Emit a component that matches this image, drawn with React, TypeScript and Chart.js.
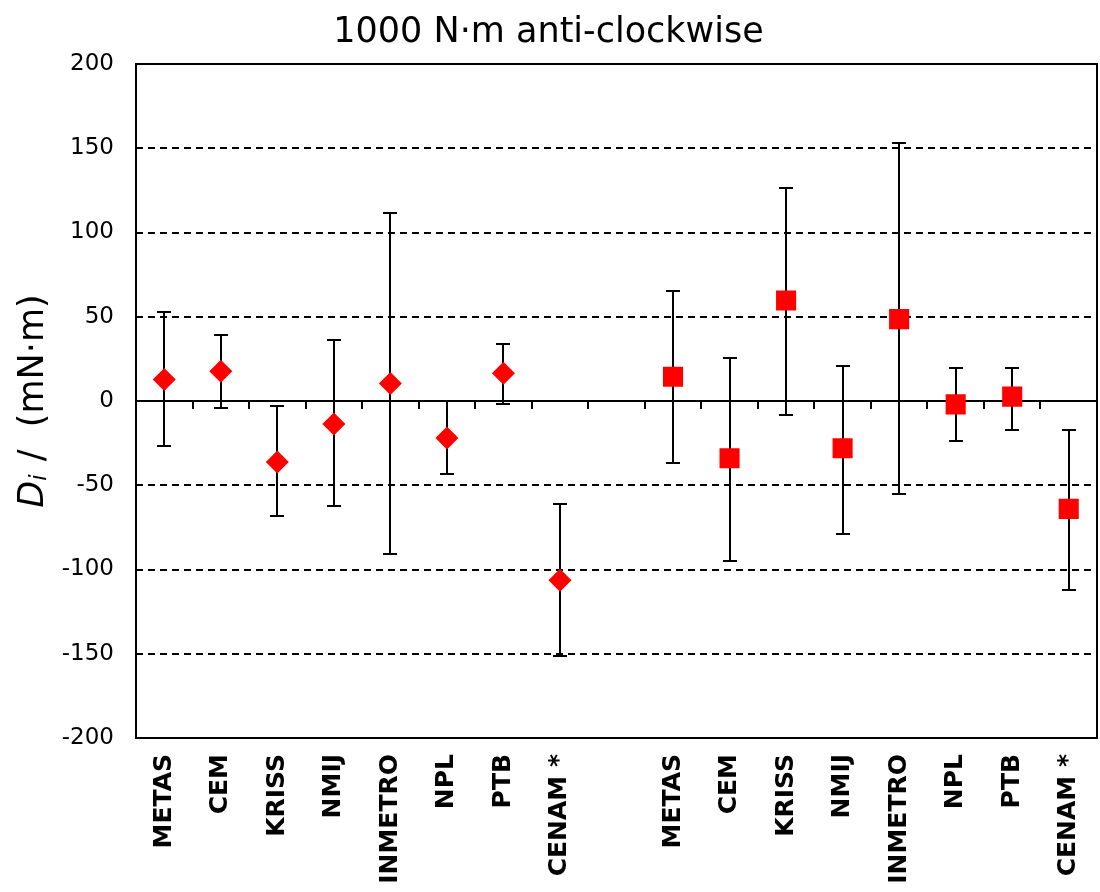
import React, { useEffect, useRef } from 'react';
import { Chart, registerables } from 'chart.js';

Chart.register(...registerables);

const TITLE = '1000 N·m anti-clockwise';
const INSTITUTES = ['METAS', 'CEM', 'KRISS', 'NMIJ', 'INMETRO', 'NPL', 'PTB', 'CENAM *'];
const CATEGORIES = [...INSTITUTES, '', ...INSTITUTES];
const Y_TICKS = [-200, -150, -100, -50, 0, 50, 100, 150, 200];

// first group (diamonds)
const LEFT_VALUES = [12.8, 17.6, -36.2, -13.6, 10.4, -21.9, 16.4, -106.4];
const LEFT_UPPER = [53, 39, -2.7, 36.4, 111.4, 0, 34, -61.2];
const LEFT_LOWER = [-26.7, -3.9, -68.3, -62.4, -91, -43.3, -1.5, -151.5];

// second group (squares)
const RIGHT_VALUES = [14.4, -34, 59.6, -28, 48.6, -2, 2.6, -64];
const RIGHT_UPPER = [65, 25.7, 126.5, 20.5, 153, 19.5, 19.5, -17];
const RIGHT_LOWER = [-37, -95, -8.6, -79, -55, -24, -17, -112];

const gap = [null];
const empty8 = INSTITUTES.map(() => null);
const DIAMOND_DATA = [...LEFT_VALUES, ...gap, ...empty8];
const SQUARE_DATA = [...empty8, ...gap, ...RIGHT_VALUES];
const UPPER = [...LEFT_UPPER, ...gap, ...RIGHT_UPPER];
const LOWER = [...LEFT_LOWER, ...gap, ...RIGHT_LOWER];

const FONT = '"DejaVu Sans", Verdana, sans-serif';

const framePlugin = {
  id: 'frame',
  beforeDatasetsDraw(chart: any) {
    const { ctx, chartArea, scales } = chart;
    const xs = scales.x;
    const ys = scales.y;
    ctx.save();
    ctx.strokeStyle = '#000';
    ctx.lineWidth = 2;
    // zero line
    const y0 = Math.round(ys.getPixelForValue(0));
    ctx.beginPath();
    ctx.moveTo(chartArea.left, y0);
    ctx.lineTo(chartArea.right, y0);
    ctx.stroke();
    // minor ticks between categories
    const half = (xs.getPixelForValue(1) - xs.getPixelForValue(0)) / 2;
    ctx.beginPath();
    for (let i = 0; i < CATEGORIES.length - 1; i++) {
      const x = Math.round(xs.getPixelForValue(i) + half);
      ctx.moveTo(x, y0);
      ctx.lineTo(x, y0 + 8);
    }
    ctx.stroke();
    // box
    const l = Math.round(chartArea.left);
    const t = Math.round(chartArea.top);
    const r = Math.round(chartArea.right);
    const b = Math.round(chartArea.bottom);
    ctx.beginPath();
    ctx.moveTo(l, t);
    ctx.lineTo(r, t);
    ctx.lineTo(r, b);
    ctx.lineTo(l, b);
    ctx.closePath();
    ctx.stroke();
    // error bars
    ctx.beginPath();
    for (let i = 0; i < CATEGORIES.length; i++) {
      const u = UPPER[i];
      const lo = LOWER[i];
      if (u === null || lo === null) continue;
      const x = Math.round(xs.getPixelForValue(i));
      const yu = Math.round(ys.getPixelForValue(u));
      const yl = Math.round(ys.getPixelForValue(lo));
      ctx.moveTo(x, yu);
      ctx.lineTo(x, yl);
      ctx.moveTo(x - 7, yu);
      ctx.lineTo(x + 7, yu);
      ctx.moveTo(x - 7, yl);
      ctx.lineTo(x + 7, yl);
    }
    ctx.stroke();
    ctx.restore();
  },
};

const yTitlePlugin = {
  id: 'yTitle',
  afterDraw(chart: any) {
    const { ctx, chartArea } = chart;
    const cy = (chartArea.top + chartArea.bottom) / 2;
    const cx = 31;
    const fBig = `italic 35px ${FONT}`;
    const fSub = `italic 23px ${FONT}`;
    const fRest = `35px ${FONT}`;
    const rest = ' /  (mN·m)';
    ctx.save();
    ctx.translate(cx, cy);
    ctx.rotate(-Math.PI / 2);
    ctx.fillStyle = '#000';
    ctx.textBaseline = 'alphabetic';
    ctx.textAlign = 'left';
    ctx.font = fBig;
    const wD = ctx.measureText('D').width;
    ctx.font = fSub;
    const wi = ctx.measureText('i').width;
    ctx.font = fRest;
    const wr = ctx.measureText(rest).width;
    const total = wD + wi + 2 + wr;
    let x = -total / 2;
    const base = 12;
    ctx.font = fBig;
    ctx.fillText('D', x, base);
    x += wD;
    ctx.font = fSub;
    ctx.fillText('i', x, base + 3);
    x += wi + 2;
    ctx.font = fRest;
    ctx.fillText(rest, x, base);
    ctx.restore();
  },
};

export default function App() {
  const ref = useRef<HTMLCanvasElement | null>(null);
  useEffect(() => {
    document.body.style.margin = '0';
    if (!ref.current) return;
    const chart = new Chart(ref.current, {
      type: 'line',
      data: {
        labels: CATEGORIES,
        datasets: [
          {
            data: DIAMOND_DATA,
            showLine: false,
            pointStyle: 'rectRot',
            pointRadius: 11.5,
            pointBackgroundColor: '#ff0000',
            pointBorderColor: '#ff0000',
            pointBorderWidth: 0,
          },
          {
            data: SQUARE_DATA,
            showLine: false,
            pointStyle: 'rect',
            pointRadius: 14.2,
            pointBackgroundColor: '#ff0000',
            pointBorderColor: '#ff0000',
            pointBorderWidth: 0,
          },
        ],
      },
      options: {
        responsive: false,
        animation: false,
        events: [],
        layout: { autoPadding: false, padding: { left: 0, right: 3, top: 0, bottom: 0 } },
        plugins: {
          legend: { display: false },
          tooltip: { enabled: false },
          title: {
            display: true,
            text: TITLE,
            color: '#000',
            font: { family: FONT, size: 35, weight: 'normal' },
            padding: { top: 12, bottom: 10 },
          },
        },
        scales: {
          x: {
            type: 'category',
            offset: true,
            grid: { display: false, drawTicks: false },
            border: { display: false },
            ticks: {
              autoSkip: false,
              minRotation: 90,
              maxRotation: 90,
              padding: 16,
              color: '#000',
              font: { family: FONT, size: 25, weight: 'bold' },
            },
            afterFit(scale: any) {
              scale.height = 154;
              scale.paddingLeft = 0;
              scale.paddingRight = 0;
            },
          },
          y: {
            min: -200,
            max: 200,
            afterBuildTicks(scale: any) {
              scale.ticks = Y_TICKS.map((v) => ({ value: v }));
            },
            grid: { color: '#000', lineWidth: 2, drawTicks: false },
            border: { display: false, dash: [7, 5] },
            ticks: {
              padding: 22,
              color: '#000',
              font: { family: FONT, size: 23 },
            },
            afterFit(scale: any) {
              scale.width = 136;
              scale.paddingTop = 0;
              scale.paddingBottom = 0;
            },
          },
        },
      },
      plugins: [framePlugin, yTitlePlugin],
    });
    return () => chart.destroy();
  }, []);
  return <canvas ref={ref} width={1100} height={892} style={{ display: 'block' }} />;
}
